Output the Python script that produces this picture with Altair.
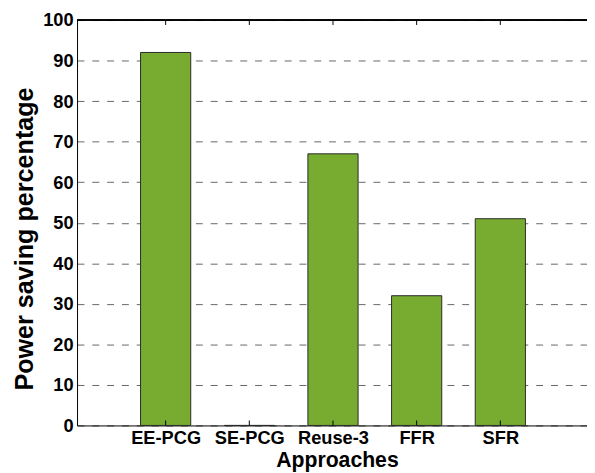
import json
import altair as alt
import pandas as pd

# ---- data ----
approaches = ["EE-PCG", "SE-PCG", "Reuse-3", "FFR", "SFR"]
positions = [1, 2, 3, 4, 5]
saving = [92, 0, 67, 32, 51]
y_ticks = [0, 10, 20, 30, 40, 50, 60, 70, 80, 90, 100]

df = pd.DataFrame({"approach": approaches, "pos": positions, "saving": saving})

W, H = 517, 411
FONT = "Liberation Sans"
label_expr = "(" + json.dumps([""] + approaches) + ")[datum.value]"

xscale = alt.Scale(domain=[0, 5.977], nice=False, zero=False)
yscale = alt.Scale(domain=[0, 100], nice=False)

xaxis = alt.Axis(
    values=positions, labelExpr=label_expr, title="Approaches",
    ticks=False, tickSize=0, labelPadding=3, grid=False,
    labelFont=FONT, labelFontSize=18.5, labelFontWeight="bold", labelColor="black",
    titleFont=FONT, titleFontSize=21.5, titleFontWeight="bold", titleColor="black",
    titleBaseline="alphabetic", titleY=42, titleX=W / 2 + 5,
    domainColor="black", domainWidth=1, labelFlush=False, labelOverlap=False)

yaxis = alt.Axis(
    values=y_ticks, title="Power saving percentage",
    ticks=False, tickSize=0, labelPadding=4, grid=True,
    gridDash=[7, 8], gridColor="#666666", gridWidth=1,
    labelFont=FONT, labelFontSize=18.5, labelFontWeight="bold", labelColor="black",
    titleFont=FONT, titleFontSize=25.5, titleFontWeight="bold", titleColor="black",
    titleAngle=270, titleBaseline="middle", titleAlign="center",
    titleX=-53, titleY=H / 2 + 16,
    domainColor="black", domainWidth=1, labelFlush=False, labelOverlap=False)

base = alt.Chart(df)

bars = base.transform_calculate(
    x0="datum.pos - 0.3", x1="datum.pos + 0.3", base0="0"
).mark_bar(color="#77AC30", stroke="#2b2b2b", strokeWidth=1, orient="vertical").encode(
    x=alt.X("x0:Q", scale=xscale, axis=xaxis),
    x2="x1:Q",
    y=alt.Y("saving:Q", scale=yscale, axis=yaxis),
    y2="base0:Q",
)

bottom_ticks = base.mark_rule(color="black", strokeWidth=1).encode(
    x=alt.X("pos:Q", scale=xscale, axis=xaxis),
    y=alt.value(H), y2=alt.value(H - 5),
)
top_ticks = base.mark_rule(color="black", strokeWidth=1).encode(
    x=alt.X("pos:Q", scale=xscale, axis=xaxis),
    y=alt.value(0), y2=alt.value(5),
)
top_border = base.mark_rule(color="black", strokeWidth=1).encode(
    x=alt.value(0), x2=alt.value(W), y=alt.value(0),
)

chart = alt.layer(bars, bottom_ticks, top_ticks, top_border).properties(
    width=W, height=H,
    autosize=alt.AutoSizeParams(type="none"),
    padding={"left": 70, "top": 9, "right": 0, "bottom": 45},
    background="white",
).configure_view(stroke=None)

chart.save("out.html", embed_options={"renderer": "svg", "actions": False})
